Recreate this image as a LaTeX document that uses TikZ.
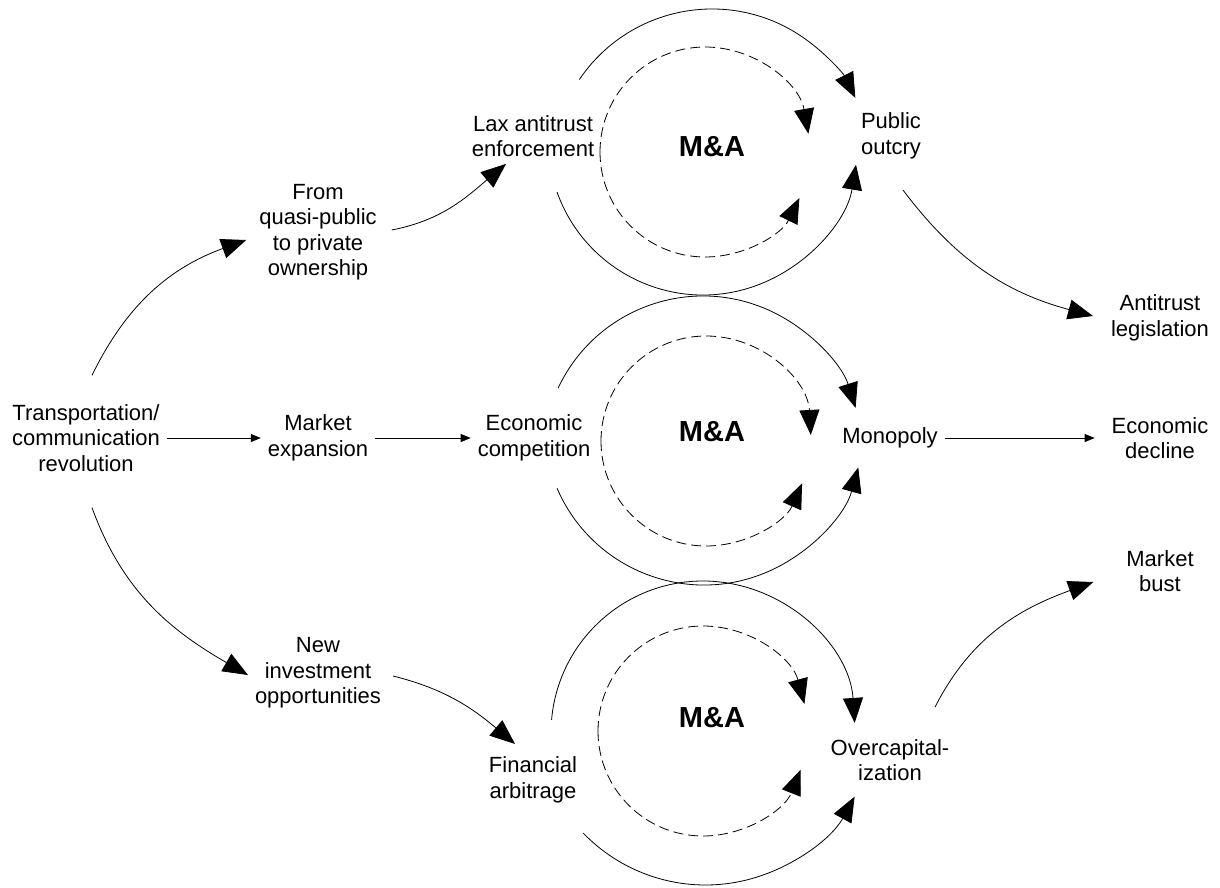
\documentclass[tikz,border=0pt]{standalone}
\usepackage{fontspec}
\setmainfont{Liberation Sans}
\usetikzlibrary{arrows.meta}
\def\rdash{105}
\tikzset{
line width=0.5pt, % all lines thin
>={Triangle[length=12.5pt,width=10pt]}, % big filled heads on the curves
lbl/.style={align=center,inner sep=3.33pt,font=\fontsize{11}{12.75}\selectfont},
ma/.style={font=\fontsize{14.5}{16}\selectfont\bfseries},
small/.style={-{Triangle[length=5pt,width=4pt]}},
loopdash/.style={->,dash pattern=on 5pt off 2.5pt},
}
\begin{document}
\begin{tikzpicture}[x=0.5pt,y=0.5pt]
\useasboundingbox (0,0) rectangle (1220,-888);
% middle row
\node[lbl] (trans) at (86,-438) {Transportation/\\communication\\revolution};
\node[lbl] (mexp) at (318,-438) {Market\\expansion};
\node[lbl] (ecomp) at (534,-438) {Economic\\competition};
\node[lbl] (mono) at (890,-438) {Monopoly};
\node[lbl] (edecl) at (1160,-438) {Economic\\decline};
% upper branch
\node[lbl] (quasi) at (318,-232) {From\\quasi-public\\to private\\ownership};
\node[lbl] (lax) at (533,-136) {Lax antitrust\\enforcement};
\node[lbl] (pub) at (891,-136) {Public\\outcry};
\node[lbl] (leg) at (1160,-318) {Antitrust\\legislation};
% lower branch
\node[lbl] (newinv) at (318,-673) {New\\investment\\opportunities};
\node[lbl] (arb) at (533,-780) {Financial\\arbitrage};
\node[lbl] (overcap) at (890,-760) {Overcapital-\\ization};
\node[lbl] (bust) at (1160,-571) {Market\\bust};
% the three loops
\node[ma] (ma1) at (712,-147) {M\&A};
\node[ma] (ma2) at (712,-432) {M\&A};
\node[ma] (ma3) at (712,-718) {M\&A};

\draw[small] (trans) -- (mexp);
\draw[small] (mexp) -- (ecomp);
\draw[small,shorten >=5pt] (mono) -- (edecl);

\draw[->] ([shift={(3pt,11pt)}]trans.north) to[out=64,in=200] ([shift={(-3pt,-4pt)}]quasi.west);
\draw[->] ([shift={(4pt,1pt)}]quasi.east) to[out=11,in=220] ([xshift=-13.5pt]lax.south);
\draw[->] ([shift={(3pt,-14.5pt)}]trans.south) to[out=-70,in=150] ([yshift=-1pt]newinv.west);
\draw[->] ([shift={(2.5pt,-1.5pt)}]newinv.east) to[out=-14,in=140] ([shift={(-9pt,3pt)}]arb.north);
\draw[->] ([shift={(6pt,-12pt)}]pub.south) to[out=-53,in=165] ([shift={(-5.5pt,1pt)}]leg.west);
\draw[->] ([shift={(22.5pt,12.5pt)}]overcap.north) to[out=63,in=200] ([shift={(-13pt,-5.5pt)}]bust.west);

% loop 1: lax -> pub
\coordinate (up1) at (712,-169);
\coordinate (dn1) at (703,-140);
\coordinate (in1) at (705,-152);
\draw[->] ([shift={(146:160)}]up1) arc[start angle=146,end angle=26.4,radius=160];
\draw[->] ([shift={(-160.4:155)}]dn1) arc[start angle=-160.4,end angle=-9.2,radius=155];
\draw[loopdash] ([shift={(180:\rdash)}]in1) arc[start angle=180,end angle=10,radius=\rdash];
\draw[loopdash] ([shift={(-180:\rdash)}]in1) arc[start angle=-180,end angle=-26,radius=\rdash];

% loop 2: ecomp -> mono
\coordinate (up2) at (703,-456);
\coordinate (dn2) at (704,-425);
\coordinate (in2) at (706,-441);
\draw[->] ([shift={(154.9:160)}]up2) arc[start angle=154.9,end angle=17.5,radius=160];
\draw[->] ([shift={(-156.7:160)}]dn2) arc[start angle=-156.7,end angle=-15.4,radius=160];
\draw[loopdash] ([shift={(180:\rdash)}]in2) arc[start angle=180,end angle=3.3,radius=\rdash];
\draw[loopdash] ([shift={(-180:\rdash)}]in2) arc[start angle=-180,end angle=-23.8,radius=\rdash];

% loop 3: arb -> overcap
\coordinate (up3) at (703,-733);
\coordinate (dn3) at (705.5,-715);
\coordinate (in3) at (703,-731);
\draw[->] ([shift={(175:152)}]up3) arc[start angle=175,end angle=3.8,radius=152];
\draw[->] ([shift={(-136:170)}]dn3) arc[start angle=-136,end angle=-28.7,radius=170];
\draw[loopdash] ([shift={(180:\rdash)}]in3) arc[start angle=180,end angle=15,radius=\rdash];
\draw[loopdash] ([shift={(-180:\rdash)}]in3) arc[start angle=-180,end angle=-21.7,radius=\rdash];
\end{tikzpicture}
\end{document}
